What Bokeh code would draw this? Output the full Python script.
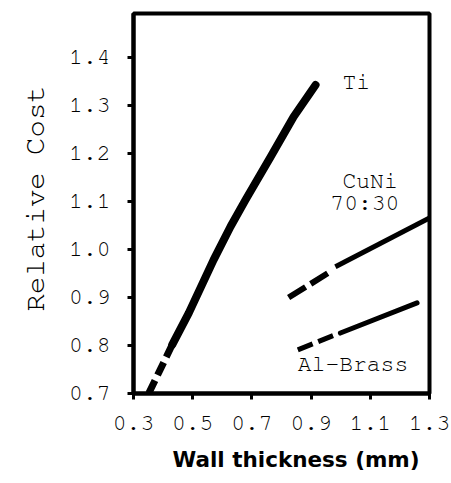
from bokeh.plotting import figure
from bokeh.models import FixedTicker, PrintfTickFormatter, Range1d, Title
from bokeh.core.properties import value
from bokeh.embed import file_html
from bokeh.resources import INLINE

# Data
x_ticks = [0.3, 0.5, 0.7, 0.9, 1.1, 1.3]
y_ticks = [0.7, 0.8, 0.9, 1.0, 1.1, 1.2, 1.3, 1.4]

ti_dash_x = [0.352, 0.431]
ti_dash_y = [0.701, 0.802]
ti_x = [0.431, 0.487, 0.571, 0.628, 0.678, 0.763, 0.841, 0.915]
ti_y = [0.802, 0.868, 0.979, 1.048, 1.103, 1.193, 1.277, 1.343]

cuni_dash_x = [0.824, 0.96]
cuni_dash_y = [0.90, 0.952]
cuni_x = [0.982, 1.30]
cuni_y = [0.964, 1.066]

albr_dash_x = [0.855, 0.976]
albr_dash_y = [0.791, 0.821]
albr_x = [0.999, 1.258]
albr_y = [0.826, 0.889]

label_text = ["Ti", "CuNi", "70:30", "Al-Brass"]
label_x = [1.006, 1.006, 0.965, 0.855]
label_y = [1.349, 1.141, 1.097, 0.760]

MONO = "'Nimbus Mono PS', 'Nimbus Mono L', FreeMono, Courier, 'Courier New', 'Liberation Mono', monospace"

p = figure(width=451, height=483, output_backend="svg", toolbar_location=None,
           x_range=Range1d(0.3, 1.3), y_range=Range1d(0.7, 1.492),
           min_border_left=133, min_border_right=22, min_border_top=13,
           min_border_bottom=89)
p.grid.visible = False
p.outline_line_color = "black"
p.outline_line_width = 4
p.background_fill_color = "white"
p.border_fill_color = "white"

for ax in (p.xaxis[0], p.yaxis[0]):
    ax.axis_line_width = 4
    ax.axis_line_color = "black"
    ax.major_tick_in = 0
    ax.major_tick_out = 6
    ax.major_tick_line_width = 3
    ax.minor_tick_line_color = None
    ax.major_label_text_font = MONO
    ax.major_label_text_font_size = "23px"
    ax.major_label_text_color = "black"
    ax.formatter = PrintfTickFormatter(format="%.1f")

p.xaxis.ticker = FixedTicker(ticks=x_ticks)
p.yaxis.ticker = FixedTicker(ticks=y_ticks)
p.yaxis.major_label_standoff = 17
p.xaxis.major_label_standoff = 17

p.line(ti_dash_x, ti_dash_y, line_width=7, color="black", line_dash="14 6")
p.line(ti_x, ti_y, line_width=8, color="black", line_cap="round", line_join="round")
p.line(cuni_dash_x, cuni_dash_y, line_width=6, color="black", line_dash="20 6")
p.line(cuni_x, cuni_y, line_width=5, color="black")
p.line(albr_dash_x, albr_dash_y, line_width=5, color="black", line_dash="16 6")
p.line(albr_x, albr_y, line_width=5, color="black", line_cap="round")

p.text(x=label_x, y=label_y, text=label_text, text_font=value(MONO),
       text_font_size="23px", text_baseline="middle", text_align="left",
       text_color="black")

p.add_layout(Title(text="Relative Cost", align="left", offset=82,
                   text_font=MONO, text_font_size="29px", text_color="black",
                   text_font_style="normal", standoff=33), "left")
p.add_layout(Title(text="Wall thickness (mm)", align="left", offset=39,
                   text_font="DejaVu Sans", text_font_size="21.5px",
                   text_font_style="bold", text_color="black", standoff=24),
             "below")

open("out.html", "w").write(file_html(p, INLINE))
